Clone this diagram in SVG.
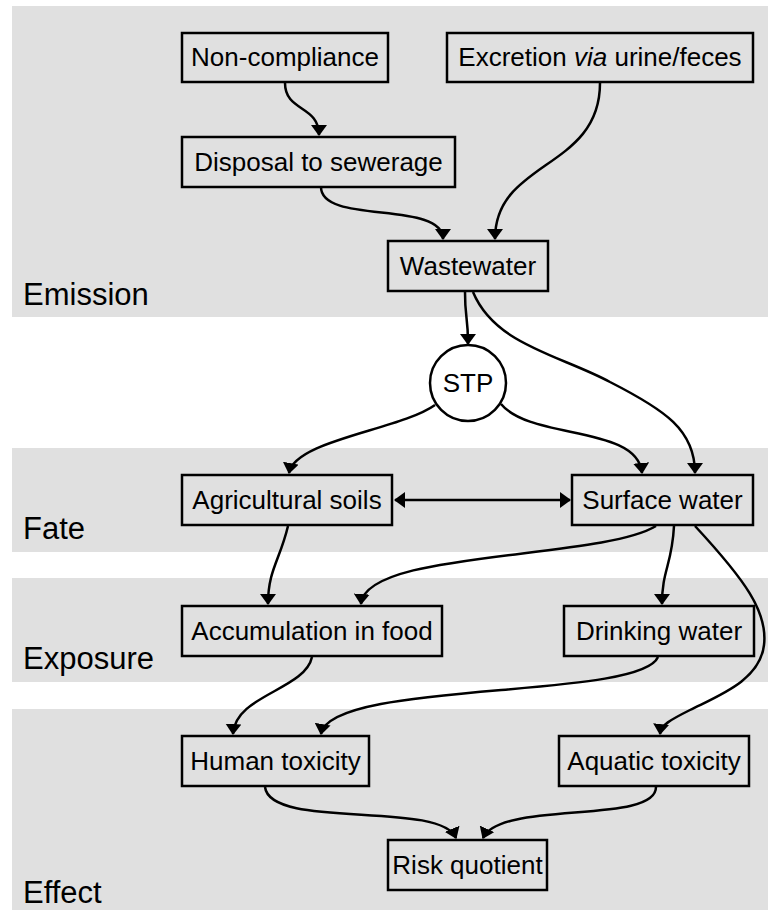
<svg xmlns="http://www.w3.org/2000/svg" width="768" height="911" viewBox="0 0 768 911">
<style>
.band{fill:#e0e0e0;stroke:none}
.lbl{font-family:"Liberation Sans",Arial,sans-serif;font-size:31px;fill:#000}
.box{fill:none;stroke:#000;stroke-width:2.5}
.txt{font-family:"Liberation Sans",Arial,sans-serif;font-size:26px;fill:#000;text-anchor:middle}
.edge{fill:none;stroke:#000;stroke-width:2.5;marker-end:url(#ah)}
</style>
<defs>
<marker id="ah" viewBox="0 0 11 16" refX="10" refY="8" markerWidth="11" markerHeight="16" markerUnits="userSpaceOnUse" orient="auto-start-reverse">
<path d="M0,0 L11,8 L0,16 Z" fill="#000"/>
</marker>
</defs>
<g id="bands">
<rect class="band" x="12" y="6" width="756" height="311"/>
<rect class="band" x="12" y="448" width="756" height="104"/>
<rect class="band" x="12" y="578" width="756" height="104"/>
<rect class="band" x="12" y="709" width="756" height="201"/>
<text class="lbl" x="23" y="305">Emission</text>
<text class="lbl" x="23" y="539">Fate</text>
<text class="lbl" x="23" y="669">Exposure</text>
<text class="lbl" x="23" y="903">Effect</text>
</g>
<g id="connectors">
<path class="edge" d="M285,83 C285,112 319,105 319,135"/>
<path class="edge" d="M600,83 C600,170 495,160 495,239"/>
<path class="edge" d="M321,187 C321,225 443,200 443,239"/>
<path class="edge" d="M465,292 C465,320 468,315 468,344"/>
<path class="edge" d="M473,292 C495,345 560,355 610,382 C665,410 695,430 695,473"/>
<path class="edge" d="M435,405 C400,430 295,440 289,473"/>
<path class="edge" d="M501,404 C530,440 638,425 642,473"/>
<path class="edge" d="M395,500 L570,500" style="marker-start:url(#ah)"/>
<path class="edge" d="M288,526 C280,560 268,570 268,604"/>
<path class="edge" d="M656,526 C600,560 365,550 361,604"/>
<path class="edge" d="M674,526 C672,565 662,570 662,604"/>
<path class="edge" d="M695,526 C745,580 768,612 764,645 C760,680 720,695 690,710 C670,720 661,725 660,734"/>
<path class="edge" d="M312,657 C305,690 235,695 233,734"/>
<path class="edge" d="M658,657 C640,700 330,680 321,734"/>
<path class="edge" d="M265,787 C270,830 440,800 456,838"/>
<path class="edge" d="M656,787 C656,825 500,800 483,838"/>
</g>
<g id="n-noncompliance"><rect class="box" x="182" y="33" width="206" height="49"/><text class="txt" x="285" y="66">Non-compliance</text></g>
<g id="n-excretion"><rect class="box" x="447" y="33" width="306" height="49"/><text class="txt" x="600" y="66">Excretion <tspan font-style="italic">via</tspan> urine/feces</text></g>
<g id="n-disposal"><rect class="box" x="182" y="137" width="273" height="50"/><text class="txt" x="318.5" y="171">Disposal to sewerage</text></g>
<g id="n-wastewater"><rect class="box" x="388" y="241" width="160" height="50"/><text class="txt" x="468" y="275">Wastewater</text></g>
<g id="n-stp"><circle cx="468" cy="383" r="38" fill="#fff" stroke="#000" stroke-width="2.5"/><text class="txt" x="468" y="392">STP</text></g>
<g id="n-agri"><rect class="box" x="182" y="475" width="210" height="50"/><text class="txt" x="287" y="509">Agricultural soils</text></g>
<g id="n-surface"><rect class="box" x="572" y="475" width="181" height="50"/><text class="txt" x="662.5" y="509">Surface water</text></g>
<g id="n-food"><rect class="box" x="182" y="606" width="260" height="50"/><text class="txt" x="312" y="640">Accumulation in food</text></g>
<g id="n-drinking"><rect class="box" x="564" y="606" width="190" height="50"/><text class="txt" x="659" y="640">Drinking water</text></g>
<g id="n-human"><rect class="box" x="182" y="736" width="187" height="50"/><text class="txt" x="275.5" y="770">Human toxicity</text></g>
<g id="n-aquatic"><rect class="box" x="559" y="736" width="190" height="50"/><text class="txt" x="654" y="770">Aquatic toxicity</text></g>
<g id="n-risk"><rect class="box" x="388" y="840" width="159" height="50"/><text class="txt" x="467.5" y="874">Risk quotient</text></g>
</svg>
